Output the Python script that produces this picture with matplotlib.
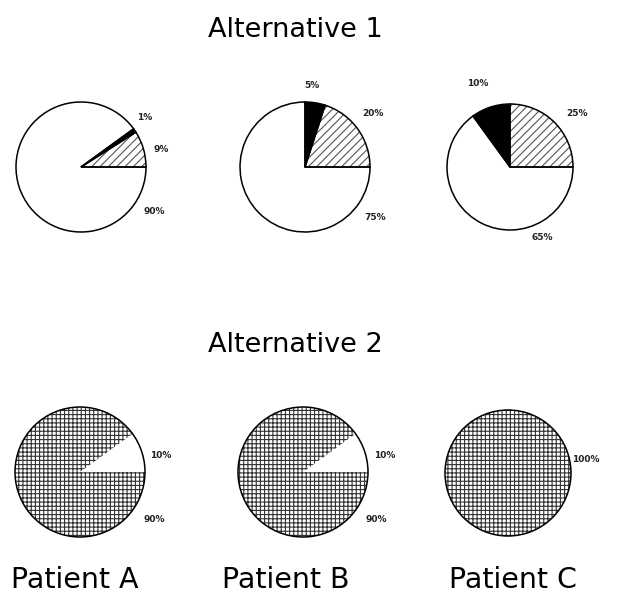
import matplotlib
matplotlib.use("Agg")
import matplotlib.pyplot as plt
from matplotlib.patches import Circle

plt.rcParams['font.family'] = ['DejaVu Sans']
plt.rcParams['hatch.linewidth'] = 0.8

patients = ["Patient A", "Patient B", "Patient C"]
titles = ["Alternative 1", "Alternative 2"]

# Alternative 1: hatched, black, white shares (%), counter-clockwise from 3 o'clock
alt1_hatched = [9, 20, 25]
alt1_black = [1, 5, 10]
alt1_white = [90, 75, 65]

# Alternative 2: white wedge and cross-hatched share (%)
alt2_white = [10, 10, 0]
alt2_grid = [90, 90, 100]

W, H = 628, 598
fig = plt.figure(figsize=(W / 100, H / 100), dpi=100)
ax = fig.add_axes([0, 0, 1, 1])

top_centers = [(81, 167), (305, 167), (510, 167)]
top_radius = [65, 65, 63]
bot_centers = [(80, 472), (303, 472), (508, 473)]
bot_radius = [65, 65, 63]

lab_kw = dict(fontsize=6.5, fontweight='bold', ha='left', va='center', color='#222222')

top_label_pos = [
    [(137, 118), (153, 150), (143, 212)],
    [(304, 85), (362, 113), (364, 218)],
    [(467, 84), (566, 113), (531, 238)],
]
bot_label_pos = [
    [(150, 455), (143, 520)],
    [(374, 455), (365, 520)],
    [(572, 460)],
]

for i in range(3):
    cx, cy = top_centers[i]
    c = (cx, H - cy)
    vals = [alt1_hatched[i], alt1_black[i], alt1_white[i]]
    # hatch layer (grey hatch, no edges)
    wh, _ = ax.pie(vals, center=c, radius=top_radius[i], startangle=0,
                   counterclock=True, colors=['white', 'black', 'white'],
                   wedgeprops=dict(edgecolor='#555555', linewidth=0), frame=True)
    wh[0].set_hatch('////')
    wh[1].set_edgecolor('black')
    # outline layer
    ax.pie(vals, center=c, radius=top_radius[i], startangle=0, counterclock=True,
           colors=['none', 'none', 'none'],
           wedgeprops=dict(edgecolor='black', linewidth=1.1, fill=False), frame=True)
    labs = [f"{alt1_black[i]}%", f"{alt1_hatched[i]}%", f"{alt1_white[i]}%"]
    for (lx, ly), t in zip(top_label_pos[i], labs):
        ax.text(lx, H - ly, t, **lab_kw)

    cx, cy = bot_centers[i]
    c = (cx, H - cy)
    vals2 = [alt2_white[i], alt2_grid[i]]
    nz = [v for v in vals2 if v > 0]
    wedges2, _ = ax.pie(nz, center=c, radius=bot_radius[i], startangle=0,
                        counterclock=True, colors=['white'] * len(nz),
                        wedgeprops=dict(edgecolor='#333333', linewidth=0), frame=True)
    wedges2[-1].set_hatch('++++')
    ax.add_patch(Circle(c, bot_radius[i], fill=False, edgecolor='black', linewidth=1.1))
    if alt2_white[i] > 0:
        labs2 = [f"{alt2_white[i]}%", f"{alt2_grid[i]}%"]
    else:
        labs2 = [f"{alt2_grid[i]}%"]
    for (lx, ly), t in zip(bot_label_pos[i], labs2):
        ax.text(lx, H - ly, t, **lab_kw)

ax.text(295, H - 30, titles[0], fontsize=19.5, ha='center', va='center')
ax.text(295, H - 345, titles[1], fontsize=19.5, ha='center', va='center')
for x, p in zip([75, 286, 513], patients):
    ax.text(x, H - 580, p, fontsize=20.5, ha='center', va='center')

ax.set_xlim(0, W)
ax.set_ylim(0, H)
ax.set_aspect('equal')
ax.axis('off')
fig.savefig("out.png", dpi=100)
